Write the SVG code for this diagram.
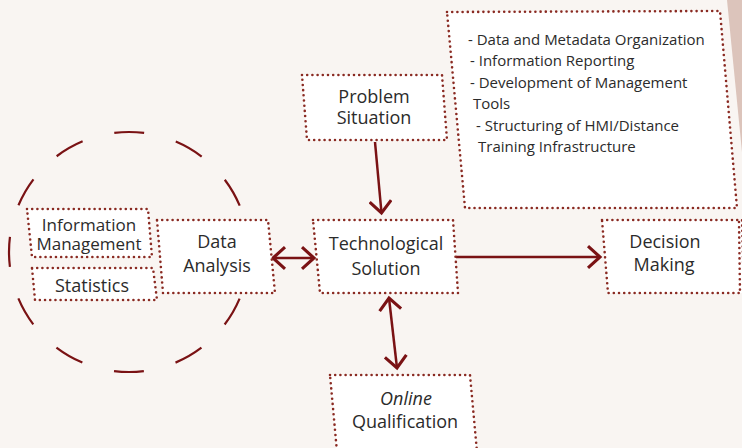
<svg xmlns="http://www.w3.org/2000/svg" width="742" height="448" viewBox="0 0 742 448">
<style>
.bg{fill:#f9f5f2}
.box{fill:#ffffff;stroke:#8a2a22;stroke-width:2.6;stroke-dasharray:0 5.2;stroke-linecap:round;stroke-linejoin:round}
.t{font-family:"Open Sans","Liberation Sans",sans-serif;fill:#2b2b2b;text-anchor:middle;font-size:18px}
.s{font-family:"Open Sans","Liberation Sans",sans-serif;fill:#2b2b2b;font-size:15px}
.c{fill:none;stroke:#7a1214;stroke-width:2.5}
</style>
<defs>
<marker id="ah" markerUnits="userSpaceOnUse" markerWidth="20" markerHeight="24" viewBox="-12 -10 14 20" refX="0" refY="0" orient="auto-start-reverse">
<path d="M-10,-9 L0,0 L-10,9" fill="none" stroke="#7a1214" stroke-width="2.6"/>
</marker>
</defs>
<rect class="bg" x="0" y="0" width="742" height="448"/>
<polygon points="727,0 742,0 742,152" fill="#dcc4bb"/>

<g id="cluster">
<circle cx="129" cy="252" r="120" fill="none" stroke="#7a1214" stroke-width="2.2" stroke-dasharray="30 32.83" stroke-dashoffset="15"/>
</g>

<g id="connectors">
<line class="c" x1="375" y1="142" x2="381.5" y2="213" marker-end="url(#ah)"/>
<line class="c" x1="273" y1="258" x2="314" y2="258" marker-start="url(#ah)" marker-end="url(#ah)"/>
<line class="c" x1="456" y1="257" x2="600" y2="257" marker-end="url(#ah)"/>
<line class="c" x1="389" y1="298" x2="397" y2="368" marker-start="url(#ah)" marker-end="url(#ah)"/>
</g>

<g id="tasks">
<polygon class="box" points="447,12 720,11 737,208 465,208"/>
<text class="s" x="468" y="45">- Data and Metadata Organization</text>
<text class="s" x="470" y="66">- Information Reporting</text>
<text class="s" x="470" y="88">- Development of Management</text>
<text class="s" x="473" y="109">Tools</text>
<text class="s" x="476" y="131">- Structuring of HMI/Distance</text>
<text class="s" x="478" y="152">Training Infrastructure</text>
</g>

<g id="problem">
<polygon class="box" points="302,75 442,75 447,140 307,140"/>
<text class="t" x="374" y="103">Problem</text>
<text class="t" x="374" y="124">Situation</text>
</g>

<g id="tech">
<polygon class="box" points="313,220 453,220 458,293 320,293"/>
<text class="t" x="386" y="250">Technological</text>
<text class="t" x="386" y="275">Solution</text>
</g>

<g id="data-analysis">
<polygon class="box" points="157,220 268,220 275,293 163,293"/>
<text class="t" x="217" y="248">Data</text>
<text class="t" x="217" y="272">Analysis</text>
</g>

<g id="info-management">
<polygon class="box" points="27,209 148,209 152,257 32,257"/>
<text class="t" x="89" y="231" style="font-size:17px">Information</text>
<text class="t" x="89" y="250" style="font-size:17px">Management</text>
</g>

<g id="statistics">
<polygon class="box" points="32,268 153,268 157,300 35,300"/>
<text class="t" x="92" y="292">Statistics</text>
</g>

<g id="decision">
<polygon class="box" points="602,220 742,220 744,293 608,293"/>
<polyline class="box" points="739,222 740,293" fill="none"/>
<text class="t" x="665" y="248">Decision</text>
<text class="t" x="664" y="271">Making</text>
</g>

<g id="online">
<polygon class="box" points="330,375 470,375 477,452 337,452"/>
<text class="t" x="406" y="405" font-style="italic">Online</text>
<text class="t" x="405" y="428">Qualification</text>
</g>
</svg>
